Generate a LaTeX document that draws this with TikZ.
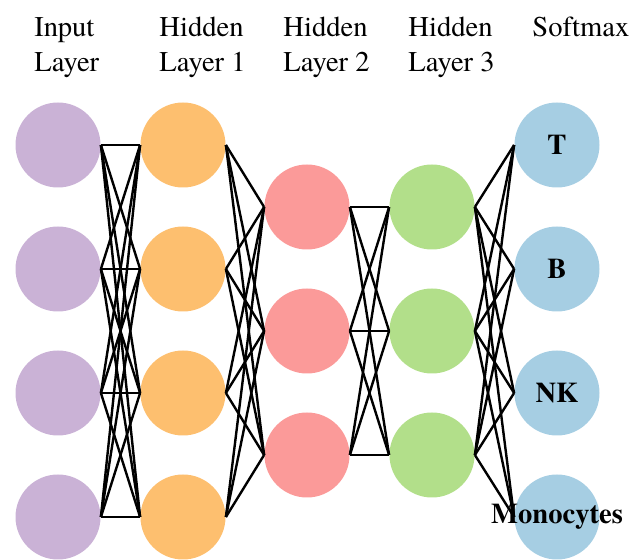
\documentclass[tikz,border=0pt]{standalone}
\usepackage{fontspec}
\setmainfont{texgyretermes}[Extension=.otf,UprightFont=*-regular,BoldFont=*-bold,ItalicFont=*-italic,BoldItalicFont=*-bolditalic]
\definecolor{cinput}{HTML}{CAB2D6}
\definecolor{chidA}{HTML}{FDBF6F}
\definecolor{chidB}{HTML}{FB9A99}
\definecolor{chidC}{HTML}{B2DF8A}
\definecolor{cout}{HTML}{A6CEE3}
\begin{document}
\begin{tikzpicture}[x=0.5pt,y=-0.5pt,
  neuron/.style={circle,minimum size=42.5pt,inner sep=0pt,draw=none},
  link/.style={line width=1.2pt,black},
  head/.style={anchor=base west,inner sep=0pt,font=\fontsize{14.3}{17}\selectfont},
  cls/.style={inner sep=0pt,font=\fontsize{14.3}{17}\selectfont\bfseries}]
\useasboundingbox (0,0) rectangle (632,560);

% layer headings
\node[head] (h1a) at (34,37) {Input};
\node[head] (h1b) at (34,72) {Layer};
\node[head] (h2a) at (159,37) {Hidden};
\node[head] (h2b) at (159,72) {Layer 1};
\node[head] (h3a) at (283,37) {Hidden};
\node[head] (h3b) at (283,72) {Layer 2};
\node[head] (h4a) at (408,37) {Hidden};
\node[head] (h4b) at (408,72) {Layer 3};
\node[head] (h5a) at (532,37) {Softmax};

% neurons
\foreach \i/\y in {1/145,2/269,3/393,4/517} {
  \node[neuron,fill=cinput] (I\i) at (58,\y) {};
  \node[neuron,fill=chidA] (A\i) at (183,\y) {};
  \node[neuron,fill=cout] (O\i) at (557,\y) {};
}
\foreach \i/\y in {1/207,2/331,3/455} {
  \node[neuron,fill=chidB] (B\i) at (307,\y) {};
  \node[neuron,fill=chidC] (C\i) at (432,\y) {};
}

% fully connected links
\foreach \a in {1,...,4} \foreach \b in {1,...,4}
  \draw[link] (I\a.east) -- (A\b.west);
\foreach \a in {1,...,4} \foreach \b in {1,...,3}
  \draw[link] (A\a.east) -- (B\b.west);
\foreach \a in {1,...,3} \foreach \b in {1,...,3}
  \draw[link] (B\a.east) -- (C\b.west);
\foreach \a in {1,...,3} \foreach \b in {1,...,4}
  \draw[link] (C\a.east) -- (O\b.west);

% class labels
\node[cls] (tT) at (O1) {T};
\node[cls] (tB) at (O2) {B};
\node[cls] (tNK) at (O3) {NK};
\node[cls] (tM) at (O4) {Monocytes};
\end{tikzpicture}
\end{document}
